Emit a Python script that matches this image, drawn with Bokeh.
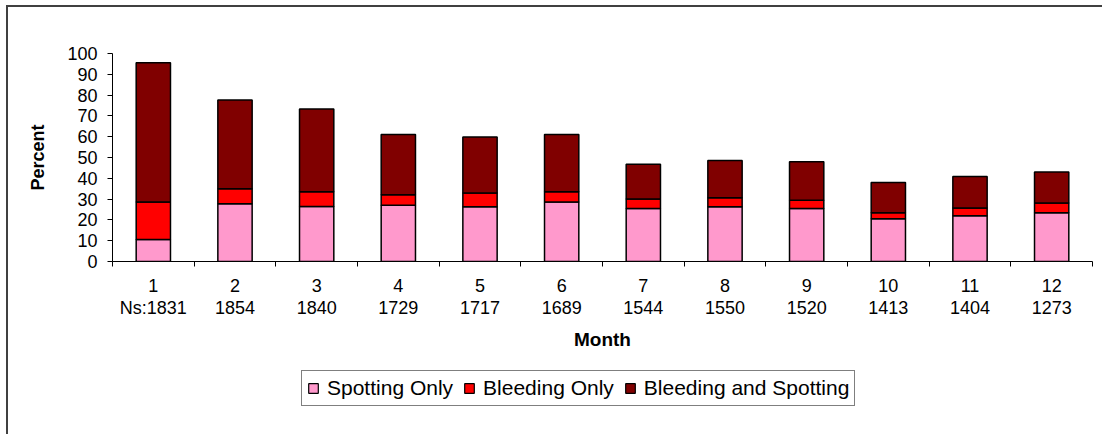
from bokeh.plotting import figure
from bokeh.layouts import column
from bokeh.models import Range1d, FixedTicker, Legend, LegendItem, ColumnDataSource
from bokeh.embed import file_html
from bokeh.resources import INLINE

# ---- data ----
months = [1, 2, 3, 4, 5, 6, 7, 8, 9, 10, 11, 12]
ns_labels = ["Ns:1831", "1854", "1840", "1729", "1717", "1689",
             "1544", "1550", "1520", "1413", "1404", "1273"]
spotting_only = [10.6, 27.8, 26.5, 27.0, 26.3, 28.6, 25.5, 26.3, 25.5, 20.5, 22.0, 23.4]
bleeding_only = [18.0, 7.2, 7.0, 5.1, 6.6, 4.9, 4.5, 4.4, 3.9, 2.9, 3.7, 4.7]
bleeding_and_spotting = [67.0, 42.7, 39.8, 28.9, 27.0, 27.5, 16.7, 17.9, 18.6, 14.6, 15.2, 14.9]
series_names = ["Spotting Only", "Bleeding Only", "Bleeding and Spotting"]
y_ticks = [0, 10, 20, 30, 40, 50, 60, 70, 80, 90, 100]

colors = ["#FF99CC", "#FF0000", "#800000"]
FONT = "Liberation Sans"

src = ColumnDataSource(dict(month=months, spot=spotting_only,
                            bleed=bleeding_only, both=bleeding_and_spotting))
stack_keys = ["spot", "bleed", "both"]

p = figure(width=1094, height=360,
           x_range=Range1d(0.5, 12.5), y_range=Range1d(0, 100),
           output_backend="svg", toolbar_location=None,
           min_border_left=104, min_border_right=10,
           min_border_top=46, min_border_bottom=106)

rs = p.vbar_stack(stack_keys, x="month", width=0.42, source=src,
                  fill_color=colors, line_color="black", line_width=1.5)

p.grid.visible = False
p.outline_line_color = None
p.background_fill_color = "white"
p.border_fill_color = "white"

# x axis
xa = p.xaxis[0]
xa.ticker = FixedTicker(ticks=months, minor_ticks=[m - 0.5 for m in months] + [months[-1] + 0.5])
xa.major_tick_in = 0
xa.major_tick_out = 0
xa.minor_tick_in = 0
xa.minor_tick_out = 5
xa.minor_tick_line_color = "black"
xa.axis_line_color = "black"
xa.major_label_overrides = {m: f"{m}\n{n}" for m, n in zip(months, ns_labels)}
xa.major_label_text_font = FONT
xa.major_label_text_font_size = "18px"
xa.major_label_text_line_height = 1.1
xa.major_label_text_color = "black"
xa.major_label_standoff = 9
xa.axis_label = "Month"
xa.axis_label_text_font = FONT
xa.axis_label_text_font_style = "bold"
xa.axis_label_text_font_size = "19px"
xa.axis_label_text_color = "black"
xa.axis_label_standoff = 8

# y axis
ya = p.yaxis[0]
ya.ticker = FixedTicker(ticks=y_ticks)
ya.minor_tick_line_color = None
ya.major_tick_in = 0
ya.major_tick_out = 5
ya.major_tick_line_color = "black"
ya.axis_line_color = "black"
ya.major_label_text_font = FONT
ya.major_label_text_font_size = "18px"
ya.major_label_text_color = "black"
ya.major_label_standoff = 10
ya.axis_label = "Percent"
ya.axis_label_text_font = FONT
ya.axis_label_text_font_style = "bold"
ya.axis_label_text_font_size = "18px"
ya.axis_label_text_color = "black"
ya.axis_label_standoff = 16

# legend strip (separate figure so the legend is not clipped by the chart frame)
q = figure(width=1094, height=67, x_range=Range1d(0, 1), y_range=Range1d(0, 1),
           output_backend="svg", toolbar_location=None,
           x_axis_type=None, y_axis_type=None,
           min_border_left=0, min_border_right=0, min_border_top=0, min_border_bottom=0)
q.grid.visible = False
q.outline_line_color = None
q.border_fill_color = "white"
proxies = q.vbar_stack(stack_keys, x="month", width=0.42, source=src,
                       fill_color=colors, line_color="black", line_width=1.2)
for r in proxies:
    r.visible = False

legend = Legend(items=[LegendItem(label=nm, renderers=[r]) for nm, r in zip(series_names, proxies)],
                orientation="horizontal", location=(189, 28),
                border_line_color="black", border_line_width=1,
                label_text_font=FONT, label_text_font_size="21px",
                label_text_color="black",
                glyph_width=12, glyph_height=12, label_standoff=8,
                spacing=10, padding=5, margin=0,
                inactive_fill_alpha=0,
                background_fill_color="white", background_fill_alpha=1)
q.add_layout(legend)

layout = column(p, q, spacing=0)
layout.styles = {"margin-left": "6px", "margin-top": "5px",
                 "border-left": "2px solid #404040", "border-top": "2px solid #404040"}

open("out.html", "w").write(file_html(layout, INLINE))
